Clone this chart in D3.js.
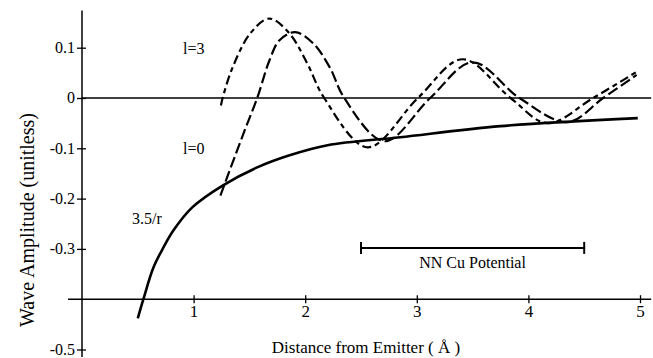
<!DOCTYPE html>
<html>
<head>
<meta charset="utf-8">
<script src="https://cdn.jsdelivr.net/npm/d3@7"></script>
<style>
  body { margin: 0; background: #fff; }
  svg { display: block; }
  text { font-family: "Liberation Serif", "Times New Roman", serif; fill: #000; }
</style>
</head>
<body>
<div class="viz"></div>
<script>
// values
var xTicks = [1, 2, 3, 4, 5];
var yTicks = [0.1, 0, -0.1, -0.2, -0.3, -0.5];
var yTickLabels = ["0.1", "0", "-0.1", "-0.2", "-0.3", "-0.5"];

// 3.5/r curve
var coulombR = [0.50, 0.55, 0.64, 0.73, 0.82, 0.99, 1.26, 1.57, 1.86, 2.20, 2.85, 3.75, 4.98];
var coulombV = [-0.438, -0.40, -0.337, -0.297, -0.263, -0.217, -0.174, -0.138, -0.114, -0.094, -0.078, -0.056, -0.040];

// l=3 wave
var l3R = [1.245, 1.26, 1.35, 1.51, 1.68, 1.86, 2.02, 2.17, 2.56, 3.01, 3.41, 3.84, 4.17, 4.58, 4.97];
var l3V = [-0.015, 0, 0.061, 0.129, 0.158, 0.128, 0.068, 0, -0.098, 0, 0.077, 0, -0.050, 0, 0.052];

// l=0 wave
var l0R = [1.24, 1.35, 1.46, 1.57, 1.68, 1.77, 1.91, 2.07, 2.22, 2.35, 2.71, 3.12, 3.50, 3.92, 4.35, 4.67, 4.97];
var l0V = [-0.194, -0.128, -0.063, 0, 0.075, 0.115, 0.131, 0.109, 0.061, 0, -0.086, 0, 0.071, 0, -0.048, 0, 0.046];

var nnRange = [2.50, 4.50];
var nnLevel = -0.298;

var width = 653, height = 358;
var svg = d3.select(".viz").append("svg").attr("width", width).attr("height", height);

var x = d3.scaleLinear().domain([0, 5]).range([82, 640]);
var y = d3.scaleLinear().domain([0.1, -0.5]).range([47.7, 349.5]);

function pts(rs, vs) {
  return rs.map(function (r, i) { return { r: r, v: vs[i] }; });
}
var line = d3.line()
  .x(function (d) { return x(d.r); })
  .y(function (d) { return y(d.v); })
  .curve(d3.curveCatmullRom.alpha(0.5));

// axes lines
svg.append("line")
  .attr("x1", x(0)).attr("x2", x(0))
  .attr("y1", y(0.174)).attr("y2", y(-0.515))
  .attr("stroke", "#000").attr("stroke-width", 1.5);
svg.append("line")
  .attr("x1", x(-0.125)).attr("x2", x(5.1))
  .attr("y1", y(-0.4)).attr("y2", y(-0.4))
  .attr("stroke", "#000").attr("stroke-width", 1.5);
svg.append("line")
  .attr("x1", x(0)).attr("x2", x(5.1))
  .attr("y1", y(0)).attr("y2", y(0))
  .attr("stroke", "#000").attr("stroke-width", 1.6);

// y axis ticks + labels
var yAxis = svg.append("g")
  .attr("class", "yAxis")
  .attr("transform", "translate(" + x(0) + ",0)")
  .call(d3.axisLeft(y).tickValues(yTicks).tickSize(5).tickPadding(2)
    .tickFormat(function (d, i) { return yTickLabels[i]; }));
yAxis.select(".domain").remove();
yAxis.selectAll("g.tick line").attr("stroke-width", 1.3);
yAxis.selectAll("g.tick").append("line")
  .attr("x2", 4).attr("stroke", "#000").attr("stroke-width", 1.3);
yAxis.selectAll("g.tick text")
  .attr("font-size", 16).attr("font-family", "Liberation Serif").attr("dy", "0.3em");

// x axis ticks + labels
var xAxis = svg.append("g")
  .attr("class", "xAxis")
  .attr("transform", "translate(0," + y(-0.4) + ")")
  .call(d3.axisBottom(x).tickValues(xTicks).tickSize(4).tickPadding(2).tickFormat(d3.format("d")));
xAxis.select(".domain").remove();
xAxis.selectAll("g.tick line").attr("stroke-width", 1.3);
xAxis.selectAll("g.tick").append("line")
  .attr("y2", -4).attr("stroke", "#000").attr("stroke-width", 1.3);
xAxis.selectAll("g.tick text")
  .attr("font-size", 17).attr("font-family", "Liberation Serif");

// curves
svg.append("path").datum(pts(coulombR, coulombV))
  .attr("d", line).attr("fill", "none").attr("stroke", "#000").attr("stroke-width", 2.6);
svg.append("path").datum(pts(l0R, l0V))
  .attr("d", line).attr("fill", "none").attr("stroke", "#000").attr("stroke-width", 2.2)
  .attr("stroke-dasharray", "11,4");
svg.append("path").datum(pts(l3R, l3V))
  .attr("d", line).attr("fill", "none").attr("stroke", "#000").attr("stroke-width", 2.2)
  .attr("stroke-dasharray", "9,4,5,4");

// NN Cu potential bar
var bar = svg.append("g");
bar.append("line")
  .attr("x1", x(nnRange[0])).attr("x2", x(nnRange[1]))
  .attr("y1", y(nnLevel)).attr("y2", y(nnLevel))
  .attr("stroke", "#000").attr("stroke-width", 2);
nnRange.forEach(function (r) {
  bar.append("line")
    .attr("x1", x(r)).attr("x2", x(r))
    .attr("y1", y(nnLevel) - 6).attr("y2", y(nnLevel) + 6)
    .attr("stroke", "#000").attr("stroke-width", 2);
});
bar.append("text")
  .attr("x", x((nnRange[0] + nnRange[1]) / 2)).attr("y", y(nnLevel) + 20)
  .attr("text-anchor", "middle").attr("font-size", 16)
  .text("NN Cu Potential");

// annotations
svg.append("text").attr("x", 183).attr("y", 54).attr("font-size", 16).text("l=3");
svg.append("text").attr("x", 183).attr("y", 154).attr("font-size", 16).text("l=0");
svg.append("text").attr("x", 132).attr("y", 224).attr("font-size", 16).text("3.5/r");

// axis titles
svg.append("text")
  .attr("x", 366).attr("y", 353)
  .attr("text-anchor", "middle").attr("font-size", 17)
  .text("Distance from Emitter ( Å )");
svg.append("text")
  .attr("transform", "translate(34,220) rotate(-90)")
  .attr("text-anchor", "middle").attr("font-size", 20)
  .text("Wave Amplitude (unitless)");
</script>
</body>
</html>
